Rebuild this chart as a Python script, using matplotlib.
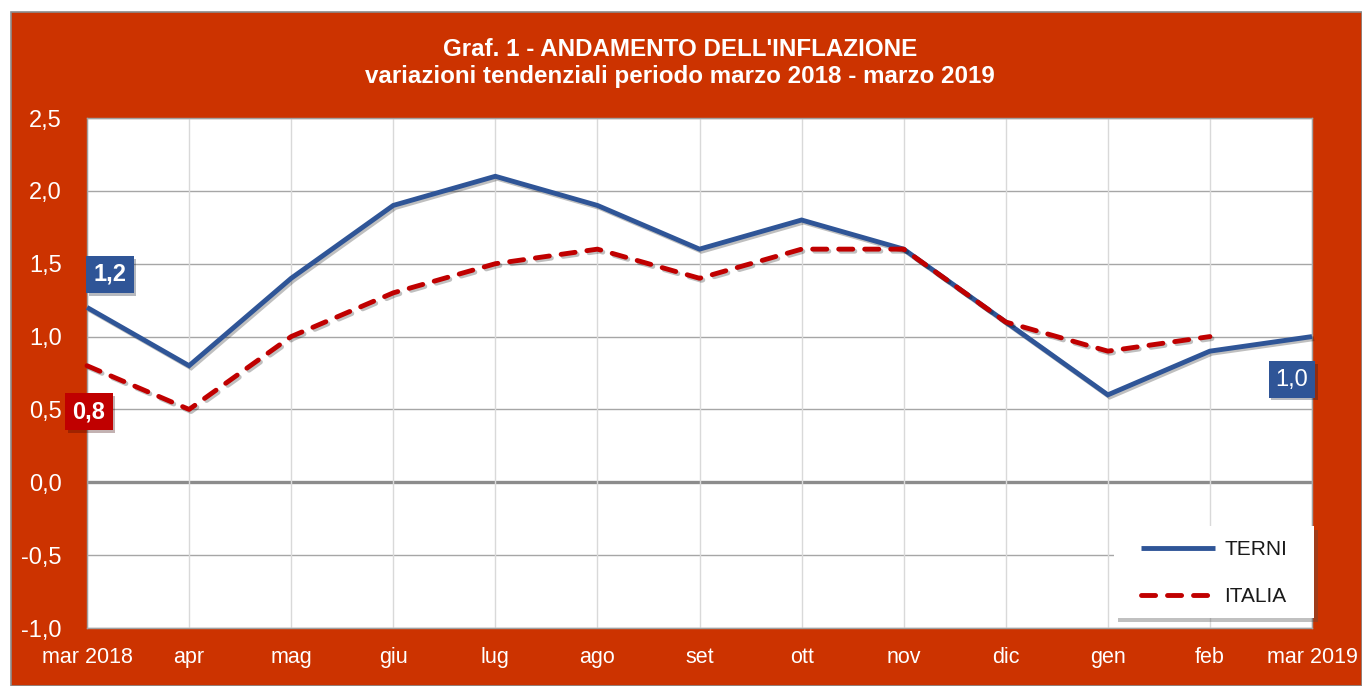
import matplotlib
matplotlib.use("Agg")
import matplotlib.pyplot as plt
import matplotlib.patheffects as pe
from matplotlib.patches import Rectangle
import numpy as np

months = ["mar 2018", "apr", "mag", "giu", "lug", "ago", "set", "ott", "nov",
          "dic", "gen", "feb", "mar 2019"]
terni = [1.2, 0.8, 1.4, 1.9, 2.1, 1.9, 1.6, 1.8, 1.6, 1.1, 0.6, 0.9, 1.0]
italia = [0.8, 0.5, 1.0, 1.3, 1.5, 1.6, 1.4, 1.6, 1.6, 1.1, 0.9, 1.0, np.nan]
yticks = [-1.0, -0.5, 0.0, 0.5, 1.0, 1.5, 2.0, 2.5]
ytick_labels = ["-1,0", "-0,5", "0,0", "0,5", "1,0", "1,5", "2,0", "2,5"]
title1 = "Graf. 1 - ANDAMENTO DELL'INFLAZIONE"
title2 = "variazioni tendenziali periodo marzo 2018 - marzo 2019"

W, H = 1362, 686
plt.rcParams['font.family'] = ['Liberation Sans', 'DejaVu Sans']
fig = plt.figure(figsize=(W / 100, H / 100), dpi=100, facecolor="white")

BG = "#CC3300"
BLUE = "#2F5597"
RED = "#C00000"

# outer red frame
fig.patches.append(Rectangle((11 / W, 0), (W - 11) / W, (H - 12) / H,
                             transform=fig.transFigure, facecolor=BG,
                             edgecolor="#8C8C8C", linewidth=1.2, zorder=-10))

L, R, T, B = 87, 1312, 118, 628
ax = fig.add_axes([L / W, (H - B) / H, (R - L) / W, (B - T) / H])
ax.set_zorder(1)
ax.set_facecolor("white")
x = np.arange(len(months))

def ax_x(px):
    return (px - L) / (R - L)

def ax_y(py):
    return (B - py) / (B - T)

ax.set_xlim(0, len(months) - 1)
ax.set_ylim(-1.0, 2.5)
ax.set_yticks(yticks)
ax.set_yticklabels(ytick_labels)
ax.set_xticks(x)
ax.set_xticklabels(months)
ax.tick_params(axis="both", length=0, colors="white")
ax.tick_params(axis="y", pad=18, labelsize=17)
ax.tick_params(axis="x", pad=14, labelsize=15.5)

for yv in yticks:
    if yv == 0:
        ax.axhline(0, color="#8C8C8C", lw=2.4, zorder=1)
    else:
        ax.axhline(yv, color="#A6A6A6", lw=1.0, zorder=1)
for xv in x:
    ax.axvline(xv, color="#D9D9D9", lw=1.0, zorder=1)
for s in ax.spines.values():
    s.set_color("#A0A0A0")
    s.set_linewidth(1.0)

shadow = [pe.SimpleLineShadow(offset=(1.5, -1.5), alpha=0.25, shadow_color="black"), pe.Normal()]
l1, = ax.plot(x, terni, color=BLUE, lw=3.5, label="TERNI", zorder=3,
              solid_joinstyle="miter", solid_capstyle="butt",
              path_effects=shadow, clip_on=False)
l2, = ax.plot(x, italia, color=RED, lw=3.5, label="ITALIA", zorder=4,
              dashes=(2.9, 2.45), dash_capstyle="round",
              path_effects=shadow, clip_on=False)

def box_label(xi, yi, text, color, dx, dy, bold=True):
    t = ax.annotate(text, (xi, yi), xytext=(dx, dy), textcoords="offset pixels",
                    ha="center", va="center", color="white", fontsize=17,
                    fontweight="bold" if bold else "normal", zorder=6,
                    annotation_clip=False,
                    bbox=dict(boxstyle="square,pad=0.3", fc=color, ec="none"))
    t.get_bbox_patch().set_path_effects(
        [pe.SimplePatchShadow(offset=(2, -2), alpha=0.3), pe.Normal()])

box_label(0, terni[0], "1,2", BLUE, 23, 33)
box_label(0, italia[0], "0,8", RED, 2, -46)
box_label(12, terni[12], "1,0", BLUE, -20, -43, bold=False)

# legend frame drawn as a white box with a soft shadow
lx0, lx1, ly0, ly1 = 1114, 1314, 526, 618
frame = Rectangle((ax_x(lx0), ax_y(ly1)), ax_x(lx1) - ax_x(lx0), ax_y(ly0) - ax_y(ly1),
                  transform=ax.transAxes, facecolor="white", edgecolor="none",
                  zorder=6, clip_on=False)
frame.set_path_effects([pe.SimplePatchShadow(offset=(3, -3), alpha=0.35), pe.Normal()])
ax.add_patch(frame)

leg = ax.legend(handles=[l1, l2], loc="upper left",
                bbox_to_anchor=(ax_x(1141), ax_y(540)),
                frameon=False, fontsize=15,
                handlelength=3.55, labelspacing=1.35, borderpad=0,
                handletextpad=0.45, borderaxespad=0)
for txt in leg.get_texts():
    txt.set_color("#1A1A1A")
for h in leg.get_lines():
    h.set_path_effects([pe.Normal()])
leg.set_zorder(7)

fig.text(680 / W, 1 - 50 / H, title1, ha="center", va="center", color="white",
         fontsize=17.4, fontweight="bold")
fig.text(680 / W, 1 - 77 / H, title2, ha="center", va="center", color="white",
         fontsize=17.4, fontweight="bold")

fig.savefig("out.png", dpi=100, facecolor=fig.get_facecolor())
